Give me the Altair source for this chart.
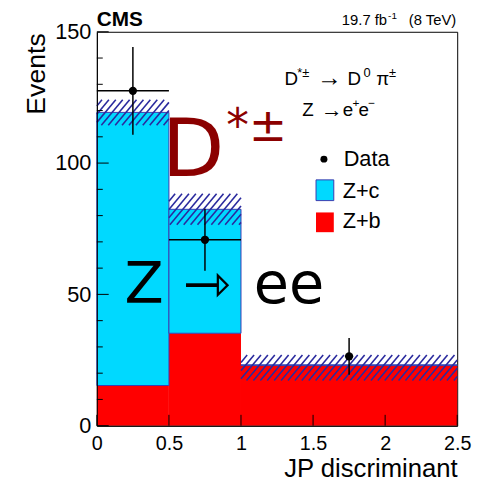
import altair as alt
import pandas as pd
import numpy as np

# ---------------- data ----------------
bin_lo = [0.0, 0.5, 1.0]
bin_hi = [0.5, 1.0, 2.5]
zb_vals = [15.3, 35.2, 22.9]      # Z+b (red)
zc_vals = [104.0, 47.2, 0.3]      # Z+c (cyan), stacked on Z+b
band_lo = [114.4, 76.5, 17.2]     # hatched uncertainty band
band_hi = [124.1, 88.3, 26.9]
data_x = [0.25, 0.75, 1.75]
data_y = [127.5, 70.8, 26.4]
data_err = [16.7, 11.8, 7.0]
data_xerr_lo = [0.0, 0.5]
data_xerr_hi = [0.5, 1.0]
data_xerr_y = [127.5, 70.8]
x_ticks = [0, 0.5, 1, 1.5, 2, 2.5]
y_major = [0, 50, 100, 150]
y_minor = [10, 20, 30, 40, 60, 70, 80, 90, 110, 120, 130, 140]

W, H = 365, 399
XMAX, YMAX = 2.5, 150.0
FONT = "Liberation Sans"
BIG = "DejaVu Sans"
CYAN = "#00D9FF"
RED = "#FF0000"
HATCH = "#2A2A9E"

xscale = alt.Scale(domain=[0, XMAX], nice=False, zero=False)
yscale = alt.Scale(domain=[0, YMAX], nice=False, zero=False)

xaxis = alt.Axis(values=x_ticks, format="~g", ticks=False, tickSize=0, grid=False,
                 domain=True, domainColor="black", domainWidth=1,
                 labelFont=FONT, labelFontSize=20, labelColor="black", labelPadding=8,
                 labelFlush=False, labelOverlap=False,
                 title="JP discriminant", titleFont=FONT, titleFontSize=26,
                 titleFontWeight="normal", titleColor="black", titleAlign="right",
                 titleBaseline="alphabetic", titleX=W, titleY=51, zindex=2)
yaxis = alt.Axis(values=y_major, format="d", ticks=False, tickSize=0, grid=False,
                 domain=True, domainColor="black", domainWidth=1,
                 labelFont=FONT, labelFontSize=22, labelColor="black", labelPadding=6,
                 labelFlush=False, labelOverlap=False,
                 title="Events", titleFont=FONT, titleFontSize=27,
                 titleFontWeight="normal", titleColor="black", titleAngle=270,
                 titleAlign="right", titleBaseline="alphabetic", titleX=-53, titleY=1,
                 zindex=2)


def X(f):
    return alt.X(f, type="quantitative", scale=xscale, axis=xaxis)


def Y(f):
    return alt.Y(f, type="quantitative", scale=yscale, axis=yaxis)


# ---------------- stacked histogram ----------------
hist = pd.DataFrame({"lo": bin_lo, "hi": bin_hi, "zb": zb_vals, "zc": zc_vals})
hist["base"] = 0.0
hist["top"] = hist["zb"] + hist["zc"]

red = alt.Chart(hist).mark_rect(color=RED, strokeWidth=0).encode(
    x=X("lo"), x2="hi", y=Y("base"), y2="zb")
cyan = alt.Chart(hist).mark_rect(color=CYAN, stroke="#3B3BB0", strokeWidth=1).encode(
    x=X("lo"), x2="hi", y=Y("zb"), y2="top")

# ---------------- hatch lines for the uncertainty band ----------------
m = np.tan(np.radians(50))
s = 7.0
segs = []
for lo, hi, blo, bhi in zip(bin_lo, bin_hi, band_lo, band_hi):
    X0, X1 = lo / XMAX * W, hi / XMAX * W
    Yt, Yb = H - bhi / YMAX * H, H - blo / YMAX * H
    k = np.ceil((m * X0 + Yt) / (m * s)) * m * s
    while k < m * X1 + Yb:
        xs = max(X0, (k - Yb) / m)
        xe = min(X1, (k - Yt) / m)
        if xe > xs:
            segs.append({"x": xs / W * XMAX, "x2": xe / W * XMAX,
                         "y": (H - (k - m * xs)) / H * YMAX,
                         "y2": (H - (k - m * xe)) / H * YMAX})
        k += m * s
hatch_df = pd.DataFrame(segs)
hatch = alt.Chart(hatch_df).mark_rule(color=HATCH, strokeWidth=1.6).encode(
    x=X("x"), x2="x2", y=Y("y"), y2="y2")

# ---------------- inside ticks ----------------
ymaj = alt.Chart(pd.DataFrame({"v": y_major})).mark_rule(color="black", strokeWidth=1).encode(
    y=Y("v"), x=alt.value(0), x2=alt.value(12))
ymin = alt.Chart(pd.DataFrame({"v": y_minor})).mark_rule(color="black", strokeWidth=1).encode(
    y=Y("v"), x=alt.value(0), x2=alt.value(6))
xtk = alt.Chart(pd.DataFrame({"v": x_ticks})).mark_rule(color="black", strokeWidth=1).encode(
    x=X("v"), y=alt.value(H), y2=alt.value(H - 11))

# ---------------- data ----------------
pts = pd.DataFrame({"x": data_x, "y": data_y, "e": data_err})
pts["ylo"] = pts["y"] - pts["e"]
pts["yhi"] = pts["y"] + pts["e"]
xe_df = pd.DataFrame({"lo": data_xerr_lo, "hi": data_xerr_hi, "y": data_xerr_y})
verr = alt.Chart(pts).mark_rule(color="black", strokeWidth=1.5).encode(
    x=X("x"), y=Y("ylo"), y2="yhi")
herr = alt.Chart(xe_df).mark_rule(color="black", strokeWidth=1.5).encode(
    x=X("lo"), x2="hi", y=Y("y"))
dots = alt.Chart(pts).mark_point(filled=True, shape="circle", size=70, color="black",
                                 opacity=1).encode(x=X("x"), y=Y("y"))


# ---------------- texts ----------------
def txt(t, x, y, size, font=FONT, color="black", weight="normal", align="left"):
    return alt.Chart(pd.DataFrame({"t": [t]})).mark_text(
        font=font, fontSize=size, color=color, fontWeight=weight, align=align,
        baseline="alphabetic").encode(text="t:N", x=alt.value(x), y=alt.value(y))


texts = [
    txt("CMS", 0, -6, 21, weight="bold"),
    txt("19.7 fb", 294, -7, 15, align="right"),
    txt("-1", 295, -13, 10),
    txt("(8 TeV)", W - 1, -7, 15, align="right"),
    # D*± -> D0 π±
    txt("D", 190, 54, 19),
    txt("*±", 203, 46, 13),
    txt("→", 223, 55, 25),
    txt("D", 254, 54, 19),
    txt("0", 270, 46, 13),
    txt("π", 283, 54, 19),
    txt("±", 296, 46, 13),
    # Z -> e+e-
    txt("Z", 208, 85, 19),
    txt("→", 227, 86, 22),
    txt("e", 249, 85, 19),
    txt("+", 259, 76, 12),
    txt("e", 265, 85, 19),
    txt("−", 275, 76, 12),
    # legend
    txt("Data", 250, 136, 22),
    txt("Z+c", 249, 168, 22),
    txt("Z+b", 249, 199, 22),
]

leg_dot = alt.Chart(pd.DataFrame({"a": [0]})).mark_point(
    filled=True, shape="circle", size=50, color="black", opacity=1).encode(
    x=alt.value(230), y=alt.value(129))
leg_c = alt.Chart(pd.DataFrame({"a": [0]})).mark_rect(
    color=CYAN, stroke="#3B3BB0", strokeWidth=1).encode(
    x=alt.value(222), x2=alt.value(240), y=alt.value(150), y2=alt.value(171))
leg_b = alt.Chart(pd.DataFrame({"a": [0]})).mark_rect(color=RED).encode(
    x=alt.value(222), x2=alt.value(240), y=alt.value(183), y2=alt.value(203))

big = [
    txt("D", 66, 146, 82, font=BIG, color="#8B0000"),
    txt("*±", 131, 111, 46, font=BIG, color="#8B0000"),
    txt("Z", 28, 275, 58, font=BIG),
    txt("⇾", 87, 275, 58, font=BIG),
    txt("ee", 159, 275, 58, font=BIG),
]

chart = alt.layer(
    red, cyan, hatch, ymaj, ymin, xtk, verr, herr, dots,
    leg_dot, leg_c, leg_b, *texts, *big
).properties(
    width=W, height=H,
    autosize=alt.AutoSizeParams(type="none"),
    padding={"left": 90, "top": 21, "right": 16, "bottom": 58},
).configure_view(stroke="black", strokeWidth=1)

chart.save("out.html", embed_options={"renderer": "svg", "actions": False})
